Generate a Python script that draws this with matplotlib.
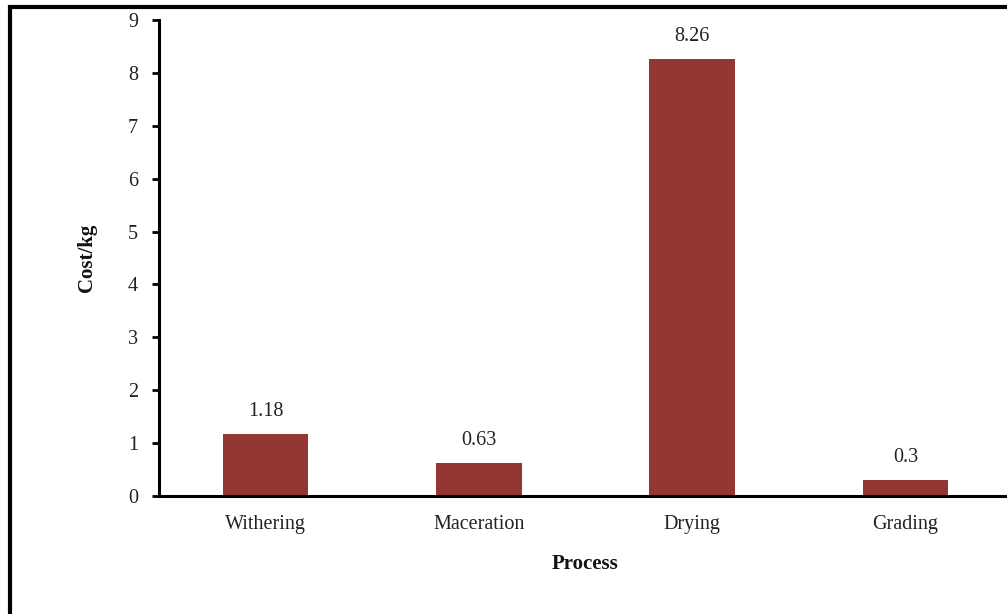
import matplotlib
matplotlib.use("Agg")
import matplotlib.pyplot as plt
from matplotlib.patches import Rectangle
import numpy as np

processes = ["Withering", "Maceration", "Drying", "Grading"]
cost_per_kg = [1.18, 0.63, 8.26, 0.3]
value_labels = ["1.18", "0.63", "8.26", "0.3"]
yticks = list(range(0, 10))

plt.rcParams["font.family"] = ["Liberation Serif", "DejaVu Serif"]

W, H = 1007, 614
fig = plt.figure(figsize=(W / 100, H / 100), dpi=100)
fig.patch.set_facecolor("white")

# plot area in pixel terms, converted to figure fractions
left, right, top, bottom = 159, 1012, 20, 496
ax = fig.add_axes([left / W, 1 - bottom / H, (right - left) / W, (bottom - top) / H])

x = np.arange(len(processes))
ax.bar(x, cost_per_kg, width=0.40, color="#943634", zorder=2)
for xi, v, lab in zip(x, cost_per_kg, value_labels):
    ax.text(xi, v + 0.24, lab, ha="center", va="bottom", fontsize=14.5, color="#222222")

ax.set_xlim(-0.5, 3.5)
ax.set_ylim(0, 9)
ax.set_yticks(yticks)
ax.set_xticks(x)
ax.set_xticklabels(processes)
ax.tick_params(axis="y", direction="out", length=5, width=2, labelsize=14.5, pad=10,
               labelcolor="#222222")
ax.tick_params(axis="x", length=0, labelsize=14.5, pad=14, labelcolor="#222222")
for s in ("top", "right"):
    ax.spines[s].set_visible(False)
for s in ("left", "bottom"):
    ax.spines[s].set_linewidth(2.2)

ax.set_xlabel("Process", fontweight="bold", fontsize=15, labelpad=14, color="#111111")
ax.set_ylabel("Cost/kg", fontweight="bold", fontsize=15, labelpad=22, color="#111111")

# outer frame around the figure
fig.patches.append(Rectangle((9.5 / W, -0.1), 1.2, 1 - 6.5 / H + 0.1,
                             transform=fig.transFigure, fill=False,
                             edgecolor="black", linewidth=3, zorder=10))

fig.savefig("out.png", dpi=100, facecolor="white")
